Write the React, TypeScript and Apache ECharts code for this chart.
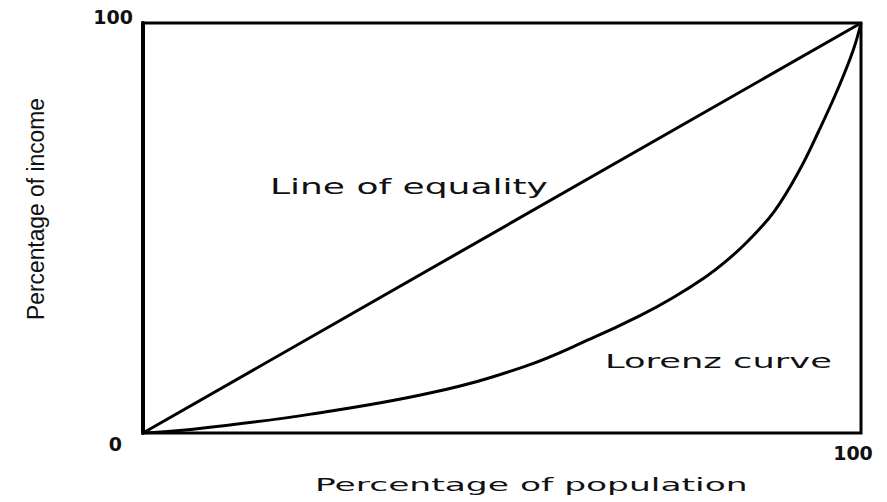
import React, { useEffect, useRef } from "react";
import * as echarts from "echarts";

// Data (percent of population vs percent of income)
const equalityX: number[] = [0, 100];
const equalityY: number[] = [0, 100];
const lorenzX: number[] = [0, 7.0, 23.4, 40.1, 53.1, 62.4, 69.3, 73.8, 78.3, 81.0, 84.3, 87.9, 91.4, 94.1, 96.7, 98.9, 100];
const lorenzY: number[] = [0, 0.9, 4.6, 9.8, 16.2, 23.0, 28.7, 33.0, 38.0, 41.6, 46.9, 54.0, 64.0, 73.6, 83.6, 93.3, 100];
const tickValues: number[] = [0, 100];
const xTitle = "Percentage of population";
const yTitle = "Percentage of income";
const equalityLabel = "Line of equality";
const lorenzLabel = "Lorenz curve";

function measure(text: string, font: string): number {
  const c = document.createElement("canvas");
  const ctx = c.getContext("2d");
  if (!ctx) return text.length * 10;
  ctx.font = font;
  return ctx.measureText(text).width;
}

export default function App() {
  const ref = useRef<HTMLDivElement>(null);

  useEffect(() => {
    if (!ref.current) return;
    const chart = echarts.init(ref.current, undefined, { renderer: "svg" });

    const wideFont = "DejaVu Sans";
    const eqSize = 22;
    const lzSize = 20;
    const xtSize = 18;
    const ytSize = 24;
    const eqScale = 278 / measure(equalityLabel, `${eqSize}px "${wideFont}"`);
    const lzScale = 227 / measure(lorenzLabel, `${lzSize}px "${wideFont}"`);
    const xtScale = 433 / measure(xTitle, `${xtSize}px "${wideFont}"`);
    const ytScale = 222 / measure(yTitle, `${ytSize}px "Liberation Sans"`);

    const tickFont = { fontFamily: wideFont, fontWeight: "bold" as const, fontSize: 19, color: "#111" };

    chart.setOption({
      animation: false,
      backgroundColor: "#ffffff",
      grid: {
        left: 143,
        right: 26,
        top: 23,
        bottom: 69,
        show: true,
        borderColor: "#000",
        borderWidth: 3,
        backgroundColor: "transparent",
      },
      xAxis: {
        type: "value",
        min: 0,
        max: 100,
        interval: 100,
        axisLine: { show: false },
        axisTick: { show: false },
        splitLine: { show: false },
        axisLabel: {
          margin: 10,
          ...tickFont,
          formatter: (v: number) => (v === tickValues[1] ? `{h|${v}}` : ""),
          rich: { h: { padding: [0, 16, 0, 0], ...tickFont } },
        },
      },
      yAxis: {
        type: "value",
        min: 0,
        max: 100,
        interval: 100,
        axisLine: { show: true, lineStyle: { color: "#000", width: 4 } },
        axisTick: { show: false },
        splitLine: { show: false },
        axisLabel: {
          margin: 10,
          ...tickFont,
          formatter: (v: number) => (v === tickValues[0] ? `{z|${v}}` : `{h|${v}}`),
          rich: {
            z: { padding: [22, 11, 0, 0], ...tickFont },
            h: { padding: [0, 0, 12, 0], ...tickFont },
          },
        },
      },
      series: [
        {
          type: "line",
          name: equalityLabel,
          data: equalityX.map((x, i) => [x, equalityY[i]]),
          showSymbol: false,
          lineStyle: { color: "#000", width: 3 },
          z: 3,
        },
        {
          type: "line",
          name: lorenzLabel,
          data: lorenzX.map((x, i) => [x, lorenzY[i]]),
          smooth: 0.4,
          showSymbol: false,
          lineStyle: { color: "#000", width: 3 },
          z: 3,
        },
      ],
      graphic: [
        {
          type: "text",
          x: 270,
          y: 186,
          scaleX: eqScale,
          style: {
            text: equalityLabel,
            font: `${eqSize}px "${wideFont}"`,
            fill: "#111",
            align: "left",
            verticalAlign: "middle",
          },
        },
        {
          type: "text",
          x: 605,
          y: 361,
          scaleX: lzScale,
          style: {
            text: lorenzLabel,
            font: `${lzSize}px "${wideFont}"`,
            fill: "#111",
            align: "left",
            verticalAlign: "middle",
          },
        },
        {
          type: "text",
          x: 315,
          y: 484,
          scaleX: xtScale,
          style: {
            text: xTitle,
            font: `${xtSize}px "${wideFont}"`,
            fill: "#111",
            align: "left",
            verticalAlign: "middle",
          },
        },
        {
          type: "text",
          x: 36,
          y: 209,
          rotation: Math.PI / 2,
          scaleX: ytScale,
          style: {
            text: yTitle,
            font: `${ytSize}px "Liberation Sans"`,
            fill: "#111",
            align: "center",
            verticalAlign: "middle",
          },
        },
      ],
    });

    return () => chart.dispose();
  }, []);

  return (
    <div
      ref={ref}
      style={{ position: "fixed", left: 0, top: 0, width: 887, height: 502, background: "#fff" }}
    />
  );
}
